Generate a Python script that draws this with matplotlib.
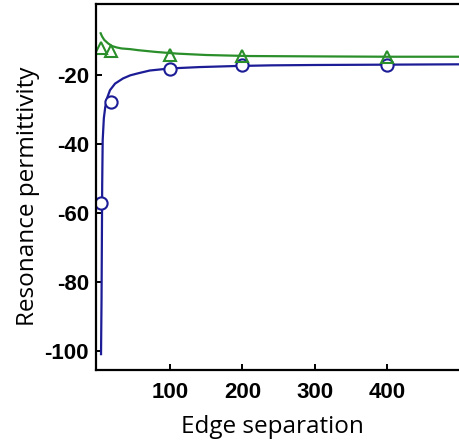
import matplotlib
matplotlib.use("Agg")
import matplotlib.pyplot as plt

plt.rcParams["axes.unicode_minus"] = False

# measured resonance points
sep_pts = [4, 19, 100, 200, 400]
eps_circle = [-57.0, -27.7, -18.3, -17.1, -17.1]
eps_triangle = [-12.2, -13.0, -14.2, -14.5, -14.7]

# fitted curves, sampled along edge separation
fit_x_blue = [4.6, 5.0, 5.3, 5.7, 6.2, 6.9, 8.5, 10.5, 13.5, 17, 24, 35, 45, 56, 72,
              100, 141, 190, 240, 300, 400, 500]
fit_blue = [-101.0, -92.0, -85.3, -70.8, -52.0, -38.9, -32.5, -29.2, -26.4, -24.4,
            -22.5, -21.0, -20.1, -19.5, -18.7, -18.1, -17.7, -17.4, -17.2, -17.1,
            -17.0, -16.9]
fit_x_green = [4.1, 6, 9, 14.2, 19.8, 26, 33, 45, 56, 80, 110, 150, 210, 300, 400, 500]
fit_green = [-7.9, -8.8, -9.8, -10.8, -11.6, -12.0, -12.3, -12.5, -12.8, -13.3,
             -13.8, -14.2, -14.5, -14.6, -14.7, -14.7]

blue = "#1c1c96"
green = "#2a8f2a"

fig = plt.figure(figsize=(4.6, 4.41), dpi=100)
ax = fig.add_axes([96 / 460, 71 / 441, 1 - 96 / 460, 366 / 441])

ax.plot(fit_x_blue, fit_blue, color=blue, lw=1.6)
ax.plot(fit_x_green, fit_green, color=green, lw=1.6)
ax.plot(sep_pts, eps_circle, "o", ms=8.8, mfc="white", mec=blue, mew=1.5)
ax.plot(sep_pts, eps_triangle, "^", ms=8.8, mfc="none", mec=green, mew=1.5)

ax.set_xlim(-2.35, 500.9)
ax.set_ylim(-105.6, 0.6)
ax.set_xticks([100, 200, 300, 400])
ax.set_yticks([-20, -40, -60, -80, -100])

for side in ("left", "bottom", "top"):
    ax.spines[side].set_linewidth(1.6)
ax.spines["right"].set_visible(False)
ax.tick_params(direction="in", length=4, width=1.4, top=False, right=False)
ax.tick_params(axis="x", pad=9)
ax.tick_params(axis="y", pad=5)
for lab in ax.get_xticklabels() + ax.get_yticklabels():
    lab.set_family("Liberation Sans")
    lab.set_fontweight("bold")
    lab.set_fontsize(16)

ax.set_xlabel("Edge separation", family="Open Sans", fontsize=17.5, labelpad=8)
ax.set_ylabel("Resonance permittivity", family="Open Sans", fontsize=17.5, labelpad=3)
ax.xaxis.label.set_x(0.486)
ax.yaxis.label.set_y(0.475)

fig.savefig("out.png", dpi=100)
plt.close(fig)
